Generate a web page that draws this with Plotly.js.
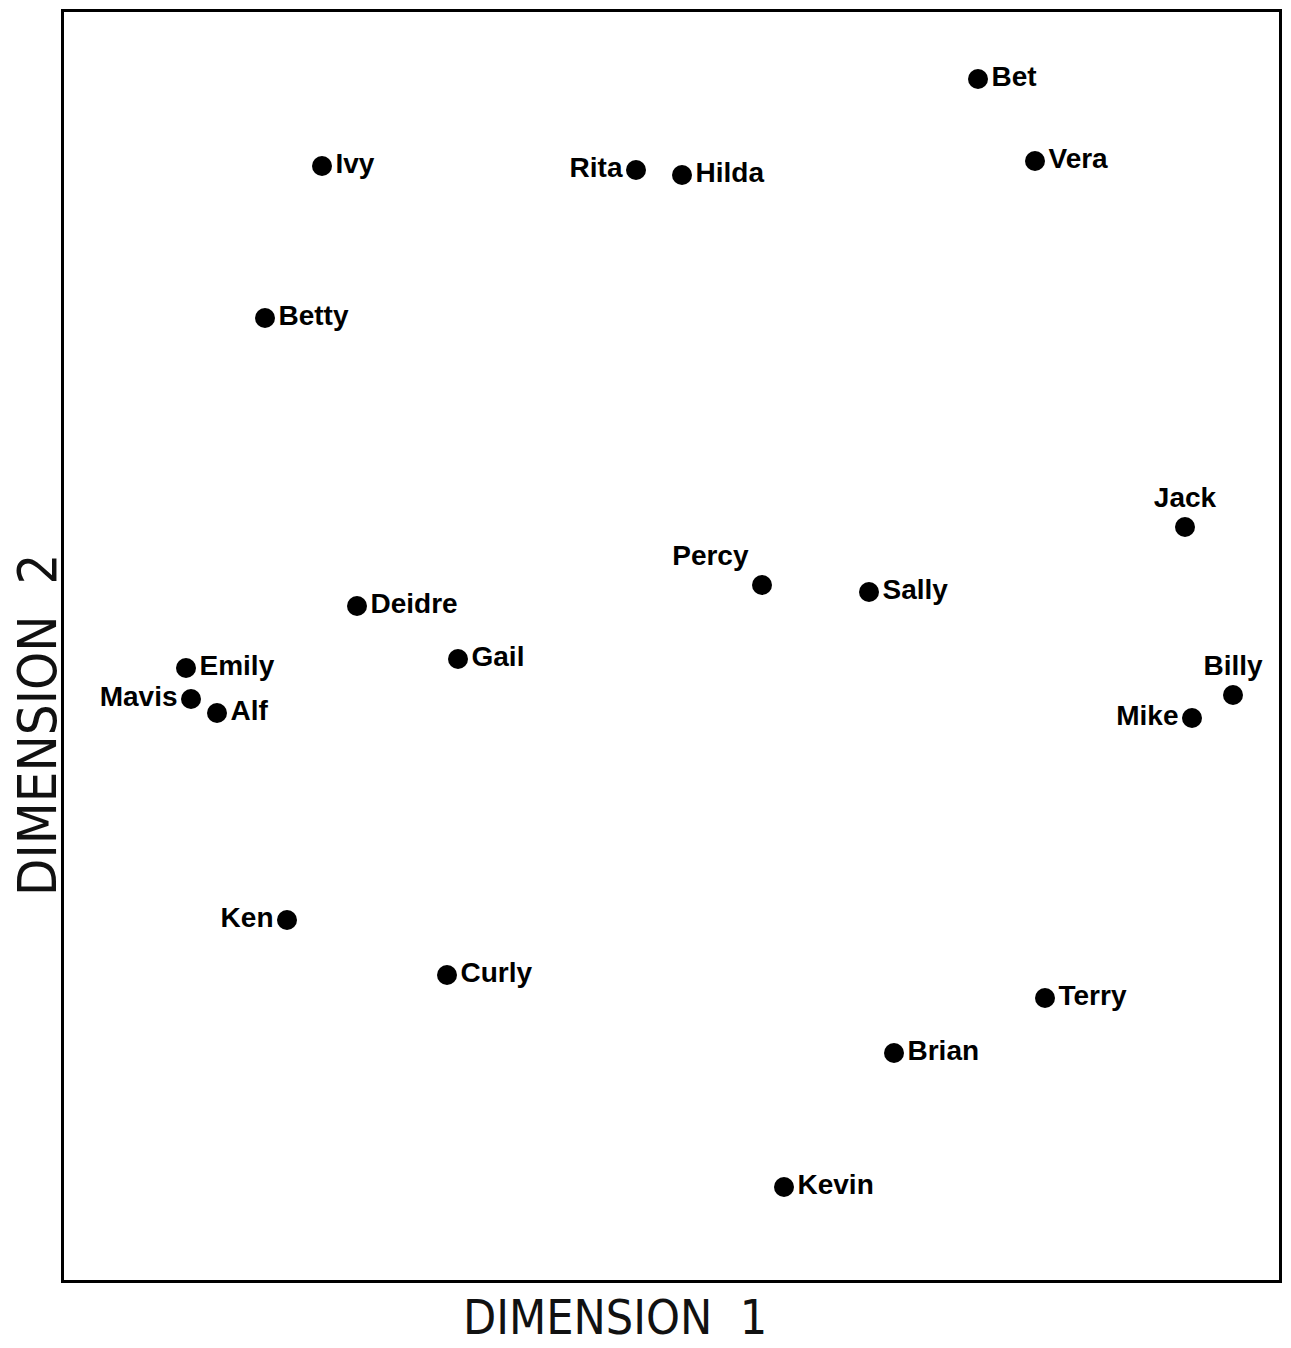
<!DOCTYPE html>
<html>
<head>
<meta charset="utf-8">
<script src="https://cdn.plot.ly/plotly-3.0.1.min.js"></script>
<style>html,body{margin:0;padding:0;background:#fff;}#chart{width:1291px;height:1348px;}</style>
</head>
<body>
<div id="chart"></div>
<script>
const names = ["Bet","Ivy","Rita","Hilda","Vera","Betty","Jack","Percy","Sally","Deidre","Emily","Gail","Mavis","Alf","Billy","Mike","Ken","Curly","Terry","Brian","Kevin"];
const dim1 = [914,258,572,618,971,201,1121,698,805,293,122,394,127,153,1169,1128,223,383,981,830,720];
const dim2 = [1201,1114,1110,1105,1119,962,753,695,688,674,612,621,581,567,585,562,360,305,282,227,93];
const labelPos = ["middle right","middle right","middle left","middle right","middle right","middle right","top center","top left","middle right","middle right","middle right","middle right","middle left","middle right","top center","middle left","middle left","middle right","middle right","middle right","middle right"];
const xTitle = "DIMENSION  1";
const yTitle = "DIMENSION  2";

const trace = {
  x: dim1, y: dim2, text: names,
  mode: "markers+text", type: "scatter",
  textposition: labelPos,
  marker: {size: 20, color: "#000"},
  textfont: {family: "Liberation Sans, Arial, sans-serif", size: 28, color: "#000", weight: "bold"},
  cliponaxis: false, hoverinfo: "skip"
};

const titleFont = {family: "DejaVu Sans Condensed, DejaVu Sans, sans-serif", size: 48, color: "#111"};

const layout = {
  width: 1291, height: 1348,
  margin: {l: 64, r: 12, t: 12, b: 68},
  paper_bgcolor: "#fff", plot_bgcolor: "#fff",
  showlegend: false,
  xaxis: {range: [0, 1215], showgrid: false, zeroline: false, showticklabels: false, ticks: "",
    showline: true, mirror: true, linecolor: "#000", linewidth: 3},
  yaxis: {range: [0, 1268], showgrid: false, zeroline: false, showticklabels: false, ticks: "",
    showline: true, mirror: true, linecolor: "#000", linewidth: 3},
  annotations: [
    {text: xTitle, xref: "paper", yref: "paper", x: 0.4535, y: -0.029, xanchor: "center", yanchor: "middle", showarrow: false, font: titleFont},
    {text: yTitle, xref: "paper", yref: "paper", x: -0.022, y: 0.438, xanchor: "center", yanchor: "middle", textangle: -90, showarrow: false, font: Object.assign({}, titleFont, {size: 54})}
  ]
};

Plotly.newPlot("chart", [trace], layout, {displayModeBar: false, staticPlot: true});
</script>
</body>
</html>
